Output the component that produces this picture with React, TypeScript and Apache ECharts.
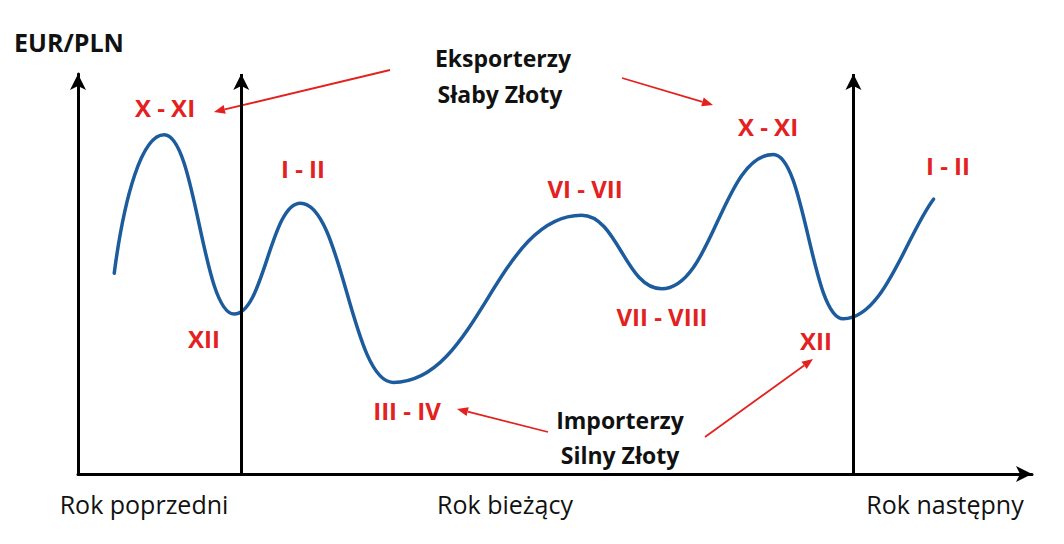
import React, { useEffect, useRef } from "react";
import * as echarts from "echarts";

// Months relative to start of current year (0 = I, 12 = next year's I); turning points of the curve
const curveMonths = [-2.49, -1.51, -0.14, 1.16, 2.98, 6.67, 8.24, 10.43, 11.8, 13.57];
// EUR/PLN (schematic, 0-100)
const curveValues = [50.2, 84.8, 40.0, 67.7, 22.9, 64.7, 46.3, 79.9, 38.8, 68.7];
const yearBoundaries = [0, 12];
const yearLabels = ["Rok poprzedni", "Rok bieżący", "Rok następny"];
const periodLabels = ["X - XI", "I - II", "XII", "III - IV", "VI - VII", "VII - VIII", "X - XI", "XII", "I - II"];

const RED = "#e3211f";
const BLUE = "#1d5c9c";
const FONT = "'Open Sans', Lato, sans-serif";

function arrow(x1: number, y1: number, x2: number, y2: number) {
  const dx = x2 - x1;
  const dy = y2 - y1;
  const len = Math.sqrt(dx * dx + dy * dy);
  const ux = dx / len;
  const uy = dy / len;
  const hl = 11;
  const hw = 4.5;
  const bx = x2 - ux * hl;
  const by = y2 - uy * hl;
  return [
    {
      type: "line",
      shape: { x1, y1, x2: bx, y2: by },
      style: { stroke: RED, lineWidth: 1.8 },
    },
    {
      type: "polygon",
      shape: {
        points: [
          [x2, y2],
          [bx - uy * hw, by + ux * hw],
          [bx + uy * hw, by - ux * hw],
        ],
      },
      style: { fill: RED },
    },
  ];
}

function redText(text: string, x: number, y: number) {
  return {
    type: "text",
    x,
    y,
    style: {
      text,
      fill: RED,
      font: `bold 24px ${FONT}`,
      textAlign: "center",
      textVerticalAlign: "middle",
    },
  };
}

function blackText(text: string, x: number, y: number, size: number, bold: boolean, align = "center") {
  return {
    type: "text",
    x,
    y,
    style: {
      text,
      fill: "#111",
      font: `${bold ? "bold " : ""}${size}px ${FONT}`,
      textAlign: align,
      textVerticalAlign: "middle",
    },
  };
}

export default function App() {
  const ref = useRef<HTMLDivElement>(null);
  useEffect(() => {
    document.body.style.margin = "0";
    const chart = echarts.init(ref.current!, null, { renderer: "svg" });
    const labelPos: [number, number][] = [
      [165, 107], [303, 168], [204, 338], [407, 410], [585, 188], [662, 316], [768, 126], [816, 340], [948, 165],
    ];
    const yearPos: [number, number][] = [[144, 504], [505, 504], [945, 504]];
    const pts = curveMonths.map((m, i) => [m, curveValues[i]]);
    chart.setOption({
      animation: false,
      backgroundColor: "#ffffff",
      grid: { left: 78, right: 32, top: 74, bottom: 70 },
      xAxis: {
        type: "value",
        min: -3.2,
        max: 15.5,
        axisLine: {
          show: true,
          onZero: false,
          symbol: ["none", "arrow"],
          symbolSize: [12, 16],
          lineStyle: { color: "#000", width: 3 },
        },
        axisTick: { show: false },
        axisLabel: { show: false },
        splitLine: { show: false },
      },
      yAxis: {
        type: "value",
        min: 0,
        max: 100,
        axisLine: {
          show: true,
          onZero: false,
          symbol: ["none", "arrow"],
          symbolSize: [12, 16],
          lineStyle: { color: "#000", width: 3 },
        },
        axisTick: { show: false },
        axisLabel: { show: false },
        splitLine: { show: false },
      },
      series: [
        {
          type: "line",
          data: yearBoundaries.map((b) => [b, 0]),
          symbol: "none",
          lineStyle: { width: 0, opacity: 0 },
          silent: true,
          markLine: {
            silent: true,
            symbol: ["none", "arrow"],
            symbolSize: [12, 16],
            label: { show: false },
            lineStyle: { color: "#000", width: 3, type: "solid" },
            data: yearBoundaries.map((b) => [
              { coord: [b, 0] },
              { coord: [b, 100] },
            ]),
          },
          z: 2,
        },
        {
          type: "custom",
          data: pts,
          encode: { x: 0, y: 1 },
          clip: false,
          z: 3,
          renderItem: (params: any, api: any) => {
            if (params.dataIndex !== 0) return null;
            const p = pts.map((d) => api.coord(d));
            const n = p.length;
            let d = `M${p[0][0]},${p[0][1]}`;
            for (let i = 0; i < n - 1; i++) {
              const [x0, y0] = p[i];
              const [x1, y1] = p[i + 1];
              const dx = x1 - x0;
              const dy = y1 - y0;
              let c1x = x0 + dx * 0.45;
              let c1y = y0;
              let c2x = x1 - dx * 0.45;
              let c2y = y1;
              if (i === 0) {
                c1x = x0 + dx * 0.2;
                c1y = y0 + dy * 0.55;
              }
              if (i === n - 2) {
                c2x = x1 - dx * 0.3;
                c2y = y1 - dy * 0.3;
              }
              d += ` C${c1x},${c1y} ${c2x},${c2y} ${x1},${y1}`;
            }
            return {
              type: "path",
              shape: { pathData: d },
              style: { stroke: BLUE, lineWidth: 3.5, fill: "none", lineCap: "round" },
            };
          },
        },
      ],
      graphic: [
        blackText("EUR/PLN", 14, 42, 25, true, "left"),
        ...yearLabels.map((t, i) => blackText(t, yearPos[i][0], yearPos[i][1], 25, false)),
        blackText("Eksporterzy", 503, 58, 23, true),
        blackText("Słaby Złoty", 500, 94, 23, true),
        blackText("Importerzy", 620, 420, 23, true),
        blackText("Silny Złoty", 620, 455, 23, true),
        ...periodLabels.map((t, i) => redText(t, labelPos[i][0], labelPos[i][1])),
        ...arrow(390, 70, 214, 112),
        ...arrow(622, 78, 713, 105),
        ...arrow(548, 432, 457, 409),
        ...arrow(705, 437, 813, 359),
      ],
    });
    return () => chart.dispose();
  }, []);
  return <div ref={ref} style={{ width: 1064, height: 544 }} />;
}
